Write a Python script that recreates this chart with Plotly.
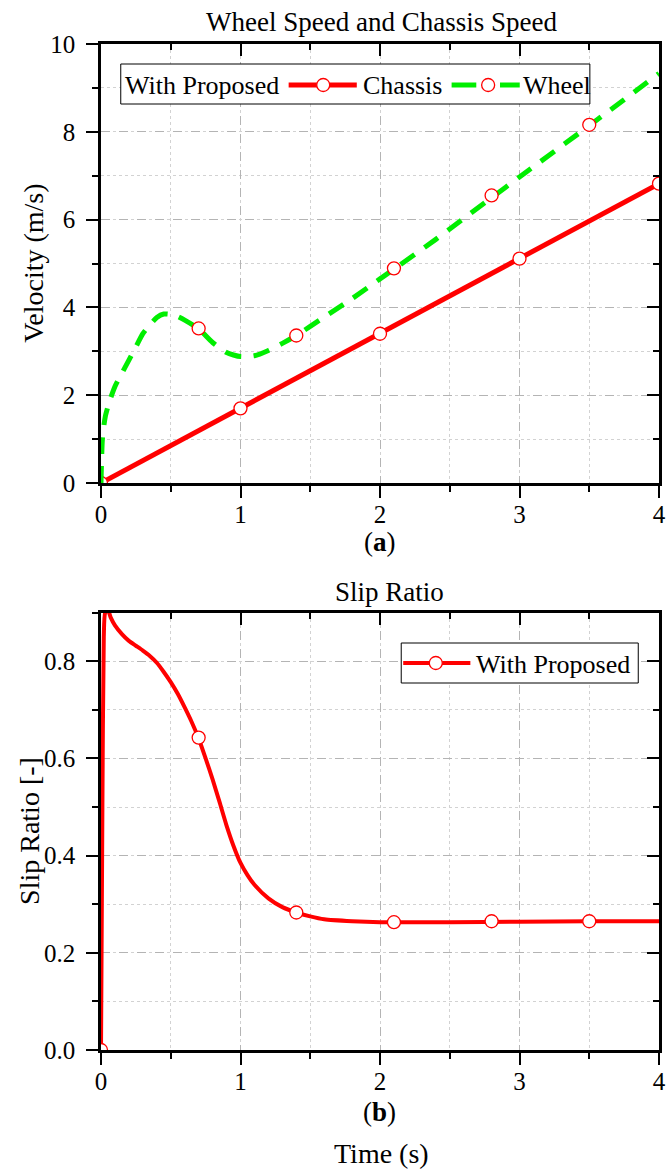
import plotly.graph_objects as go

# ---------------- data ----------------
chassis_t = [0.0, 1.0, 2.0, 3.0, 4.0]
chassis_v = [0.0, 1.70, 3.40, 5.11, 6.82]

wheel_t = [0.0, 0.01, 0.03, 0.06, 0.10, 0.15, 0.20, 0.25, 0.30, 0.35, 0.40, 0.45,
           0.50, 0.55, 0.60, 0.70, 0.80, 0.90, 1.00, 1.10, 1.20, 1.30, 1.40, 1.60,
           1.80, 2.00, 2.10, 2.40, 2.80, 3.00, 3.50, 4.00]
wheel_v = [0.0, 1.0, 1.5, 1.85, 2.2, 2.5, 2.8, 3.1, 3.4, 3.6, 3.77, 3.85,
           3.84, 3.79, 3.71, 3.51, 3.2, 2.97, 2.88, 2.9, 3.02, 3.18, 3.36, 3.78,
           4.2, 4.65, 4.87, 5.55, 6.5, 6.97, 8.14, 9.33]
wheel_mk_t = [0.7, 1.4, 2.1, 2.8, 3.5]
wheel_mk_v = [3.52, 3.36, 4.89, 6.55, 8.16]

slip_t = [0.0, 0.01, 0.02, 0.03, 0.05, 0.07, 0.10, 0.15, 0.20, 0.25, 0.30, 0.35,
          0.40, 0.45, 0.50, 0.55, 0.60, 0.65, 0.70, 0.75, 0.80, 0.85, 0.90, 0.95,
          1.00, 1.05, 1.10, 1.20, 1.30, 1.40, 1.50, 1.60, 1.80, 2.00, 2.50, 3.00,
          3.50, 4.00]
slip_s = [0.0, 0.5, 0.85, 0.9, 0.905, 0.89, 0.874, 0.856, 0.842, 0.832, 0.822, 0.811,
          0.797, 0.778, 0.757, 0.733, 0.705, 0.675, 0.641, 0.60, 0.557, 0.51, 0.462, 0.42,
          0.385, 0.36, 0.34, 0.312, 0.294, 0.283, 0.275, 0.269, 0.265, 0.263, 0.263, 0.264,
          0.265, 0.265]
slip_mk_t = [0.0, 0.7, 1.4, 2.1, 2.8, 3.5]
slip_mk_s = [0.0, 0.643, 0.283, 0.263, 0.265, 0.265]

x_ticks = [0, 1, 2, 3, 4]
v_ticks = [0, 2, 4, 6, 8, 10]
s_ticks = [0.0, 0.2, 0.4, 0.6, 0.8]

legend_top_title = "With Proposed"
legend_top_names = ["Chassis", "Wheel"]
legend_bottom_names = ["With Proposed"]

# ---------------- style ----------------
FONT = "Liberation Serif"
RED = "#ff0000"
GREEN = "#00ee00"
MK_SIZE = 13
MARKER = dict(symbol="circle", size=MK_SIZE, color="white", line=dict(color=RED, width=1.3))

W, H = 672, 1169
ML, MR, MT, MB = 101, 6, 44, 119
PW = W - ML - MR
PH = H - MT - MB


def px2paper(px_x, px_y):
    return (px_x - ML) / PW, (H - MB - px_y) / PH


TOP_DOM = [px2paper(0, 483)[1], 1.0]
BOT_DOM = [0.0, px2paper(0, 612.7)[1]]

fig = go.Figure()

# top subplot
fig.add_trace(go.Scatter(x=chassis_t, y=chassis_v, mode="lines+markers", name="Chassis",
                         line=dict(color=RED, width=5), marker=MARKER,
                         xaxis="x", yaxis="y", showlegend=False))
fig.add_trace(go.Scatter(x=wheel_t, y=wheel_v, mode="lines", name="Wheel", showlegend=False,
                         line=dict(color=GREEN, width=5, dash="17px,12px", shape="spline",
                                   smoothing=0.6),
                         xaxis="x", yaxis="y"))
fig.add_trace(go.Scatter(x=wheel_mk_t, y=wheel_mk_v, mode="markers", showlegend=False,
                         marker=MARKER, xaxis="x", yaxis="y"))

# bottom subplot
fig.add_trace(go.Scatter(x=slip_t, y=slip_s, mode="lines", name="With Proposed", showlegend=False,
                         line=dict(color=RED, width=4, shape="spline", smoothing=0.6),
                         xaxis="x2", yaxis="y2"))
fig.add_trace(go.Scatter(x=slip_mk_t, y=slip_mk_s, mode="markers", showlegend=False,
                         marker=MARKER, xaxis="x2", yaxis="y2"))

# dummy traces on mirror axes
for xa, ya in [("x3", "y"), ("x", "y3"), ("x4", "y2"), ("x2", "y4")]:
    fig.add_trace(go.Scatter(x=[None], y=[None], showlegend=False, xaxis=xa, yaxis=ya,
                             hoverinfo="skip"))

TICKFONT = dict(family=FONT, size=25, color="black")


def main_axis(rng, dtick, mdtick, tickvals, fmt=None, **kw):
    d = dict(range=rng, tickmode="array", tickvals=tickvals,
             ticks="outside", ticklen=12, tickwidth=2, tickcolor="black",
             showline=True, linewidth=2.5, linecolor="black", mirror=True,
             showgrid=True, gridcolor="#b4b4b4", gridwidth=1, griddash="dash",
             zeroline=False, tickfont=TICKFONT,
             minor=dict(tickmode="linear", dtick=mdtick, tick0=0, ticks="outside",
                        ticklen=6, tickwidth=2, tickcolor="black",
                        showgrid=True, gridcolor="#d2d2d2", gridwidth=1, griddash="dot"))
    if fmt:
        d["tickformat"] = fmt
    d.update(kw)
    return d


def mirror_axis(rng, dtick, mdtick, overlay, anchor, side):
    return dict(range=rng, tickmode="linear", dtick=dtick, tick0=0, overlaying=overlay,
                anchor=anchor, side=side, ticks="inside", ticklen=12, tickwidth=2,
                tickcolor="black", showticklabels=False, showgrid=False, zeroline=False,
                showline=False,
                minor=dict(tickmode="linear", dtick=mdtick, tick0=0, ticks="inside",
                           ticklen=6, tickwidth=2, tickcolor="black", showgrid=False))


fig.update_layout(
    width=W, height=H,
    margin=dict(l=ML, r=MR, t=MT, b=MB),
    paper_bgcolor="white", plot_bgcolor="white",
    font=dict(family=FONT, color="black"),
    showlegend=False,
    xaxis=main_axis([0, 4], 1, 0.5, x_ticks, anchor="y", domain=[0, 1],
                    ticklabelstandoff=-5),
    yaxis=main_axis([0, 10], 2, 1, v_ticks, anchor="x", domain=TOP_DOM,
                    ticklabelstandoff=6),
    xaxis2=main_axis([0, 4], 1, 0.5, x_ticks, anchor="y2", domain=[0, 1],
                     ticklabelstandoff=-5),
    yaxis2=main_axis([0, 0.9], 0.2, 0.1, s_ticks, fmt=".1f", anchor="x2",
                     domain=BOT_DOM, ticklabelstandoff=6),
    xaxis3=mirror_axis([0, 4], 1, 0.5, "x", "y", "top"),
    yaxis3=mirror_axis([0, 10], 2, 1, "y", "x", "right"),
    xaxis4=mirror_axis([0, 4], 1, 0.5, "x2", "y2", "top"),
    yaxis4=mirror_axis([0, 0.9], 0.2, 0.1, "y2", "x2", "right"),
)

ANN = []
SHAPES = []


def text(px_x, px_y, s, size, angle=0, anchor="center"):
    xx, yy = px2paper(px_x, px_y)
    ANN.append(dict(x=xx, y=yy, xref="paper", yref="paper", text=s, showarrow=False,
                    font=dict(family=FONT, size=size, color="black"), textangle=angle,
                    xanchor=anchor, yanchor="middle"))


def seg(x0, x1, y, color, width):
    a0, b = px2paper(x0, y)
    a1, _ = px2paper(x1, y)
    SHAPES.append(dict(type="line", xref="paper", yref="paper", x0=a0, x1=a1, y0=b, y1=b,
                       line=dict(color=color, width=width), layer="above"))


def circ(x, y):
    a, b = px2paper(x, y)
    r = MK_SIZE / 2
    SHAPES.append(dict(type="circle", xref="paper", yref="paper", xsizemode="pixel",
                       ysizemode="pixel", xanchor=a, yanchor=b, x0=-r, x1=r, y0=-r, y1=r,
                       fillcolor="white", line=dict(color=RED, width=1.3), layer="above"))


def box(x0, y0, x1, y1):
    a0, b0 = px2paper(x0, y0)
    a1, b1 = px2paper(x1, y1)
    SHAPES.append(dict(type="rect", xref="paper", yref="paper", x0=a0, x1=a1, y0=b1, y1=b0,
                       fillcolor="white", line=dict(color="black", width=1), layer="above"))


# top legend (drawn as legend decoration)
box(121, 64, 596, 104)
text(123, 85, legend_top_title, 26, anchor="left")
seg(291, 360, 85, RED, 5)
circ(326, 85)
text(364, 85, legend_top_names[0], 26, anchor="left")
seg(456, 481, 85, GREEN, 5)
seg(505, 525, 85, GREEN, 5)
circ(493, 85)
text(526, 85, legend_top_names[1], 26, anchor="left")

# bottom legend
box(405, 643, 645, 683)
seg(407, 475, 663, RED, 4)
circ(440, 663)
text(479, 664, legend_bottom_names[0], 26, anchor="left")

# titles and labels
text(385, 22, "Wheel Speed and Chassis Speed", 27)
text(383, 542, "(<b>a</b>)", 27)
text(33, 263, "Velocity (m/s)", 28, -90)
text(393, 592, "Slip Ratio", 27)
text(383, 1112, "(<b>b</b>)", 27)
text(385, 1153, "Time (s)", 28)
text(28, 831, "Slip Ratio [-]", 28, -90)

fig.update_layout(annotations=ANN, shapes=SHAPES)

fig.write_html("out.html")
